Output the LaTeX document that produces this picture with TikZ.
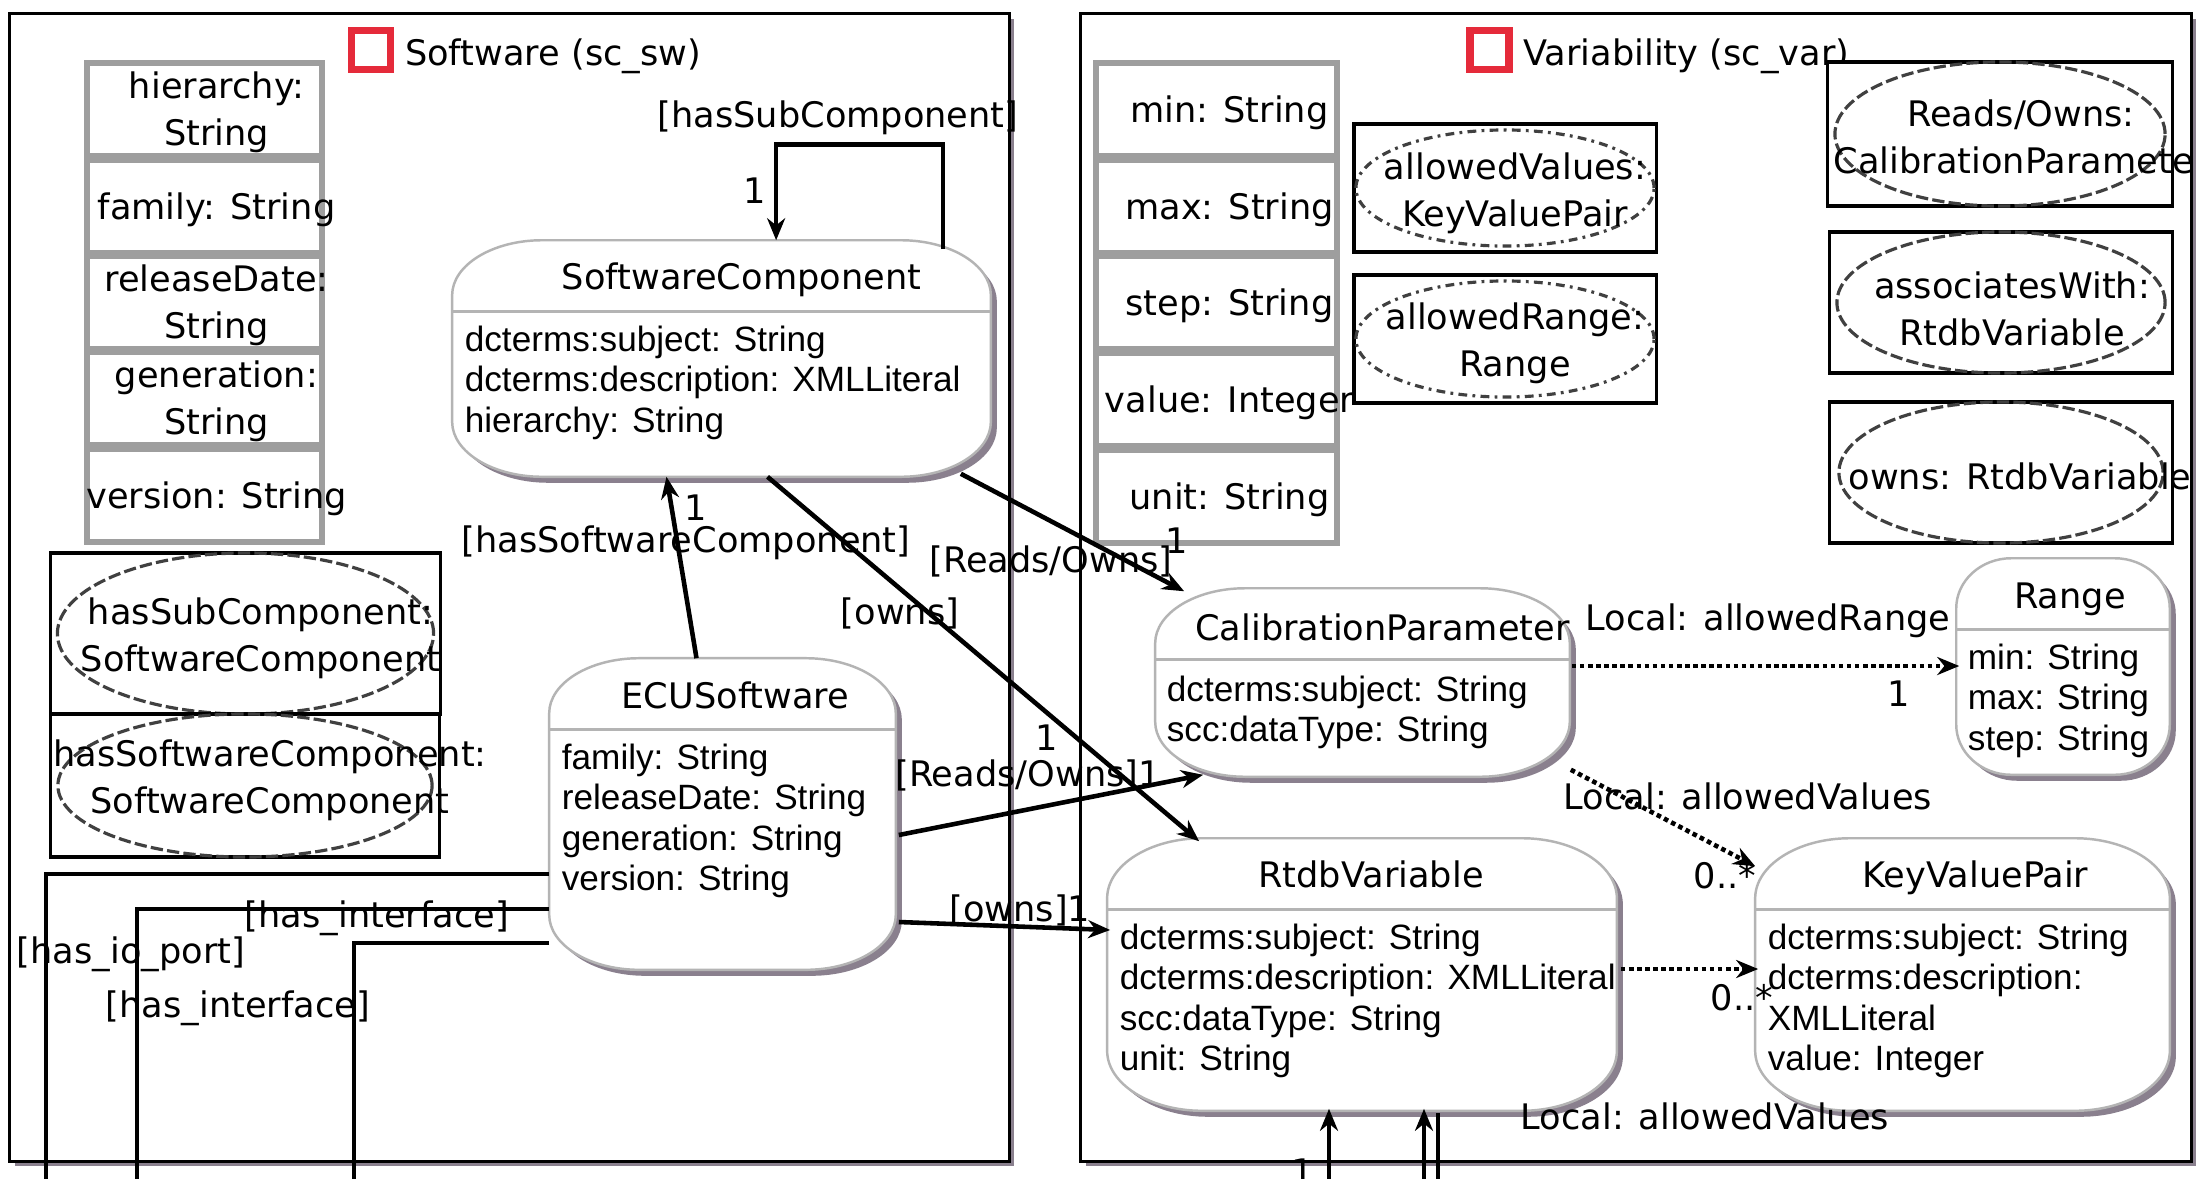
\documentclass[tikz,border=0pt]{standalone}
\usepackage{fontspec}
\setmainfont{DejaVu Sans}
\newfontfamily\attrfont{Liberation Sans}
\usetikzlibrary{arrows.meta, shapes.geometric, positioning, calc, shadows}
\definecolor{umlLine}{HTML}{B4B4B4}
\definecolor{umlShadow}{HTML}{8A808E}
\definecolor{umlRed}{HTML}{E52A3A}
\newcommand{\lblfont}{\fontsize{10}{12}\selectfont}
% outline of a class box with elliptic corners
\newcommand{\umlpath}[4]{%
  \path[#1] ($(#2.north west)+(#3,0)$) -- ($(#2.north east)+(-#3,0)$)
    .. controls +(0.55*#3,0) and +(0,-0.55*#4) .. ($(#2.north east)+(0,#4)$)
    -- ($(#2.south east)+(0,-#4)$)
    .. controls +(0,0.55*#4) and +(0.55*#3,0) .. ($(#2.south east)+(-#3,0)$)
    -- ($(#2.south west)+(#3,0)$)
    .. controls +(-0.55*#3,0) and +(0,0.55*#4) .. ($(#2.south west)+(0,-#4)$)
    -- ($(#2.north west)+(0,#4)$)
    .. controls +(0,-0.55*#4) and +(-0.55*#3,0) .. ($(#2.north west)+(#3,0)$) -- cycle;}
\newcommand{\umlshape}[3]{%
  \umlpath{fill=umlShadow, transform canvas={shift={(6,6)}}}{#1}{#2}{#3}
  \umlpath{classborder}{#1}{#2}{#3}
  \draw[classsep] ($(#1.north west)+(0,71)$) -- ($(#1.north east)+(0,71)$);}
\tikzset{
  pkgframe/.style={draw=black, line width=0.8pt, fill=white, inner sep=0pt,
    drop shadow={shadow xshift=0.05cm, shadow yshift=-0.05cm, fill=umlShadow, opacity=1}},
  frameicon/.style={draw=umlRed, line width=2.2pt, fill=white, minimum size=0.39cm, inner sep=0pt},
  frametitle/.style={font=\lblfont, inner sep=0pt, text height=9.7pt, text depth=2.5pt},
  propbox/.style={draw=black!38, line width=1.5pt, fill=white, inner sep=0pt, minimum height=0.93cm},
  proptext/.style={font=\fontsize{10}{13.3}\selectfont, align=center, inner sep=0pt},
  slotbox/.style={draw=black, line width=0.9pt, fill=white, inner sep=0pt},
  slotell/.style={draw=black!75, ellipse, line width=0.9pt, dash pattern=on 3.5pt off 1.2pt, inner sep=0pt},
  slotellalt/.style={slotell, dash pattern=on 2.5pt off 1.5pt on 0.8pt off 1.5pt},
  classbox/.style={inner sep=0pt},
  classborder/.style={draw=umlLine, line width=0.7pt, fill=white},
  classsep/.style={draw=umlLine, line width=0.9pt},
  classtitle/.style={font=\lblfont, inner sep=0pt, text height=9.7pt, text depth=2.5pt},
  classattr/.style={font=\attrfont\fontsize{10}{11.5}\selectfont, align=left, inner sep=0pt, anchor=north west},
  assoc/.style={-{Stealth[length=0.22cm, width=0.18cm]}, line width=1.3pt},
  assocplain/.style={line width=1.3pt},
  localdep/.style={assoc, dash pattern=on 1.3pt off 1pt},
  lbl/.style={font=\lblfont, inner sep=0pt, text height=9.7pt, text depth=2.5pt}
}

\begin{document}
\begin{tikzpicture}[x=0.01cm, y=-0.01cm]
  \useasboundingbox (0,0) rectangle (2208,1178);
  \clip (0,0) rectangle (2208,1178);
  \fill[white] (0,0) rectangle (2208,1178);

  % packages
  \node[pkgframe, minimum width=9.99cm, minimum height=11.47cm] (swframe) at (509.5,587.5) {};
  \node[pkgframe, minimum width=11.10cm, minimum height=11.47cm] (varframe) at (1636,587.5) {};
  \node[frameicon] (swicon) at (371,50) {};
  \node[frametitle, right=0.1cm of swicon, anchor=west, yshift=-0.03cm] (swtitle) {Software (sc\_sw)};
  \node[frameicon] (varicon) at (1489.5,50) {};
  \node[frametitle, right=0.1cm of varicon, anchor=west, yshift=-0.03cm] (vartitle) {Variability (sc\_var)};

  % datatype properties
  \foreach \i/\yc/\txt in {1/109.5/{hierarchy:\\String}, 2/206.5/{family: String},
      3/302.5/{releaseDate:\\String}, 4/398.5/{generation:\\String}, 5/495.5/{version: String}}{
    \node[propbox, minimum width=2.35cm] (swp\i) at (204.5,\yc) {};
    \node[proptext] (swp\i-t) at ($(swp\i.center)+(12,3)$) {\txt};
  }
  \foreach \i/\yc/\txt in {1/109.5/{min: String}, 2/206.5/{max: String},
      3/302.5/{step: String}, 4/399.5/{value: Integer}, 5/496.5/{unit: String}}{
    \node[propbox, minimum width=2.41cm] (varp\i) at (1216.5,\yc) {};
    \node[proptext] (varp\i-t) at ($(varp\i.center)+(13,3)$) {\txt};
  }

  % object properties
  \node[slotbox, minimum width=3.89cm, minimum height=1.61cm] (hsc-box) at (245.5,633.5) {};
  \node[slotell, minimum width=3.76cm, minimum height=1.61cm] (hsc-ell) at (hsc-box.center) {};
  \node[proptext] (hsc) at ($(hsc-box.center)+(15,5)$) {hasSubComponent:\\SoftwareComponent};
  \node[slotbox, minimum width=3.88cm, minimum height=1.43cm] (hswc-box) at (245,785.5) {};
  \node[slotell, minimum width=3.74cm, minimum height=1.43cm] (hswc-ell) at (hswc-box.center) {};
  \node[proptext] (hswc) at ($(hswc-box.center)+(25,-5)$) {hasSoftwareComponent:\\SoftwareComponent};

  \node[slotbox, minimum width=3.02cm, minimum height=1.28cm] (alv-box) at (1505,188) {};
  \node[slotellalt, minimum width=2.98cm, minimum height=1.16cm] (alv-ell) at (alv-box.center) {};
  \node[proptext] (alv) at ($(alv-box.center)+(10,5)$) {allowedValues:\\KeyValuePair};
  \node[slotbox, minimum width=3.02cm, minimum height=1.28cm] (alr-box) at (1505,339) {};
  \node[slotellalt, minimum width=2.98cm, minimum height=1.16cm] (alr-ell) at (alr-box.center) {};
  \node[proptext] (alr) at ($(alr-box.center)+(10,4)$) {allowedRange:\\Range};

  \begin{scope}
    \clip (varframe.north west) rectangle (varframe.south east);
    \node[slotbox, minimum width=3.44cm, minimum height=1.44cm] (ro-box) at (2000,134) {};
    \node[slotell, minimum width=3.30cm, minimum height=1.44cm] (ro-ell) at (ro-box.center) {};
    \node[proptext] (ro) at ($(ro-box.center)+(21,3)$) {Reads/Owns:\\CalibrationParameter};
    \node[slotbox, minimum width=3.42cm, minimum height=1.41cm] (aw-box) at (2001,302.5) {};
    \node[slotell, minimum width=3.28cm, minimum height=1.41cm] (aw-ell) at (aw-box.center) {};
    \node[proptext] (aw) at ($(aw-box.center)+(11,6)$) {associatesWith:\\RtdbVariable};
    \node[slotbox, minimum width=3.42cm, minimum height=1.41cm] (ow-box) at (2001,472.5) {};
    \node[slotell, minimum width=3.24cm, minimum height=1.41cm] (ow-ell) at (ow-box.center) {};
    \node[proptext] (ow) at ($(ow-box.center)+(19,4)$) {owns: RtdbVariable};
  \end{scope}

  % classes
  \node[classbox, minimum width=5.37cm, minimum height=2.35cm] (swc) at (721.5,358.5) {};
  \umlshape{swc}{90}{55}
  \node[classtitle] (swc-title) at ($(swc.north)+(20,37)$) {SoftwareComponent};
  \node[classattr] (swc-attr) at ($(swc.north west)+(12,85)$)
    {dcterms:subject: String\\dcterms:description: XMLLiteral\\hierarchy: String};

  \node[classbox, minimum width=3.45cm, minimum height=3.10cm] (ecu) at (722.5,814) {};
  \umlshape{ecu}{90}{55}
  \node[classtitle] (ecu-title) at ($(ecu.north)+(13,38)$) {ECUSoftware};
  \node[classattr] (ecu-attr) at ($(ecu.north west)+(12,85)$)
    {family: String\\releaseDate: String\\generation: String\\version: String};

  \node[classbox, minimum width=4.13cm, minimum height=1.87cm] (cal) at (1362.5,682.5) {};
  \umlshape{cal}{90}{55}
  \node[classtitle] (cal-title) at ($(cal.north)+(20,40)$) {CalibrationParameter};
  \node[classattr] (cal-attr) at ($(cal.north west)+(11,87)$)
    {dcterms:subject: String\\scc:dataType: String};

  \node[classbox, minimum width=2.12cm, minimum height=2.15cm] (rng) at (2063,666.5) {};
  \umlshape{rng}{55}{50}
  \node[classtitle] (rng-title) at ($(rng.north)+(7,38)$) {Range};
  \node[classattr] (rng-attr) at ($(rng.north west)+(11,85)$)
    {min: String\\max: String\\step: String};

  \node[classbox, minimum width=5.08cm, minimum height=2.71cm] (rtdb) at (1362,974.5) {};
  \umlshape{rtdb}{95}{60}
  \node[classtitle] (rtdb-title) at ($(rtdb.north)+(9,37)$) {RtdbVariable};
  \node[classattr] (rtdb-attr) at ($(rtdb.north west)+(12,85)$)
    {dcterms:subject: String\\dcterms:description: XMLLiteral\\scc:dataType: String\\unit: String};

  \node[classbox, minimum width=4.13cm, minimum height=2.71cm] (kvp) at (1962.5,974.5) {};
  \umlshape{kvp}{95}{60}
  \node[classtitle] (kvp-title) at ($(kvp.north)+(13,37)$) {KeyValuePair};
  \node[classattr] (kvp-attr) at ($(kvp.north west)+(12,85)$)
    {dcterms:subject: String\\dcterms:description:\\XMLLiteral\\value: Integer};

  % relations
  \draw[assoc] ($(swc.north east)+(-48,9)$) -- ++(0,-105) -| ($(swc.north west)+(324,0)$);
  \draw[assoc] ($(ecu.north)+(-26,0)$) -- ($(swc.south)+(-55,0)$);
  \draw[assoc] ($(swc.south)+(46,0)$) -- ($(rtdb.north west)+(92,3)$);
  \draw[assoc] ($(swc.south east)+(-30,-3)$) -- ($(cal.north west)+(29,3)$);
  \draw[assoc] ($(ecu.east)+(3,21)$) -- ($(cal.south west)+(48,-2)$);
  \draw[assoc] ($(ecu.east)+(3,108)$) -- ($(rtdb.west)+(3,-44.5)$);
  \draw[localdep] ($(cal.east)+(2,-16.5)$) -- ($(rng.west)+(3,-0.5)$);
  \draw[localdep] ($(cal.south east)+(1,-7)$) -- ($(kvp.north west)+(0,28)$);
  \draw[localdep] ($(rtdb.east)+(4,-5.5)$) -- ($(kvp.west)+(3,-5.5)$);

  \coordinate (iop) at (46,1200);
  \coordinate (ifc1) at (137,1200);
  \coordinate (ifc2) at (354,1200);
  \draw[assocplain] ($(ecu.west)+(0,60)$) -| (iop);
  \draw[assocplain] ($(ecu.west)+(0,95)$) -| (ifc1);
  \draw[assocplain] ($(ecu.west)+(0,129)$) -| (ifc2);

  \coordinate (rin1) at (1329,1200);
  \coordinate (rin2) at (1424,1200);
  \coordinate (rout) at (1438,1200);
  \draw[assoc] (rin1) -- ($(rtdb.south)+(-33,-2)$);
  \draw[assoc] (rin2) -- ($(rtdb.south)+(62,-2)$);
  \draw[assocplain] ($(rtdb.south)+(76,2)$) -- (rout);

  % labels
  \node[lbl] (l-hsub) at (838,115) {[hasSubComponent]};
  \node[lbl] (l-hsub-m) at (755,191) {1};
  \node[lbl] (l-hsw) at (686,540) {[hasSoftwareComponent]};
  \node[lbl] (l-hsw-m) at (696,508) {1};
  \node[lbl] (l-owns1) at (900,612) {[owns]};
  \node[lbl] (l-owns1-m) at (1047,738) {1};
  \node[lbl] (l-ro1) at (1051,560) {[Reads/Owns]};
  \node[lbl] (l-ro1-m) at (1177,541) {1};
  \node[lbl] (l-ro2) at (1028,774) {[Reads/Owns]1};
  \node[lbl] (l-owns2) at (1020,909) {[owns]1};
  \node[lbl] (l-range) at (1768,618) {Local: allowedRange};
  \node[lbl] (l-range-m) at (1899,694) {1};
  \node[lbl] (l-vals1) at (1748,797) {Local: allowedValues};
  \node[lbl] (l-vals1-m) at (1725,876) {0..*};
  \node[lbl] (l-vals2-m) at (1742,998) {0..*};
  \node[lbl] (l-vals2) at (1705,1117) {Local: allowedValues};
  \node[lbl] (l-if1) at (377,915) {[has\_interface]};
  \node[lbl] (l-iop) at (131,951) {[has\_io\_port]};
  \node[lbl] (l-if2) at (238,1005) {[has\_interface]};
  \node[lbl] (l-rin) at (1303,1172) {1};
\end{tikzpicture}
\end{document}
